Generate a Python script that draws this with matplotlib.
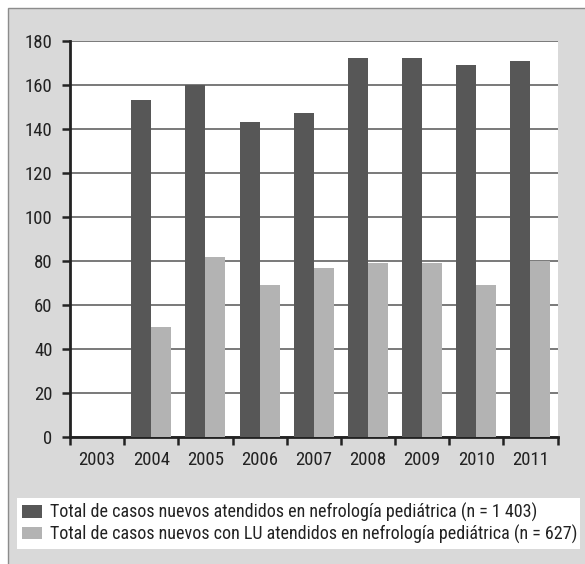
import matplotlib
matplotlib.use("Agg")
import matplotlib.pyplot as plt
from matplotlib.patches import Rectangle, Patch
import numpy as np

plt.rcParams['font.family'] = ['Roboto Condensed', 'Liberation Sans', 'DejaVu Sans']

years = ["2003", "2004", "2005", "2006", "2007", "2008", "2009", "2010", "2011"]
total_nefro = [0, 153, 160, 143, 147, 172, 172, 169, 171]
total_lu = [0, 50, 82, 69, 77, 79, 79, 69, 80]
label_total = "Total de casos nuevos atendidos en nefrología pediátrica (n = 1 403)"
label_lu = "Total de casos nuevos con LU atendidos en nefrología pediátrica (n = 627)"

dark = "#575757"
light = "#b3b3b3"
W, H = 585, 564

fig = plt.figure(figsize=(W / 100, H / 100), dpi=100)
fig.patch.set_facecolor("white")

# grey panel behind the chart
panel = Rectangle((8 / W, -0.01), 1.02 - 8 / W, 1 - 8 / H + 0.01,
                  transform=fig.transFigure, facecolor="#d9d9d9",
                  edgecolor="#8c8c8c", linewidth=1.0, zorder=-10)
fig.patches.append(panel)

ax = fig.add_axes([70 / W, 1 - 437.3 / H, (557.5 - 70) / W, (437.3 - 40.7) / H])
ax.set_facecolor("white")

x = np.arange(len(years))
bw = 0.37
ax.bar(x - bw / 2, total_nefro, width=bw, color=dark, zorder=3, label=label_total)
ax.bar(x + bw / 2, total_lu, width=bw, color=light, zorder=3, label=label_lu)

ax.set_ylim(0, 180)
ax.set_xlim(-0.5, len(years) - 0.5)
ax.set_yticks(np.arange(0, 181, 20))
ax.yaxis.grid(True, color="#555555", linewidth=1.1, zorder=1)
ax.set_axisbelow(True)

# ticks at category boundaries, labels at centres
ax.set_xticks(np.arange(-0.5, len(years), 1.0))
ax.set_xticklabels([])
ax.set_xticks(x, minor=True)
ax.set_xticklabels(years, minor=True)
ax.tick_params(axis="x", which="major", length=5.5, width=1.8, color="#222222", direction="out")
ax.tick_params(axis="x", which="minor", length=0, pad=10, labelsize=13.5, labelcolor="#222222")
ax.tick_params(axis="y", length=5.5, width=1.8, color="#222222", pad=7, labelsize=13.5, labelcolor="#222222")

for s in ("top", "right"):
    ax.spines[s].set_visible(False)
for s in ("left", "bottom"):
    ax.spines[s].set_linewidth(2.0)
    ax.spines[s].set_color("#222222")

handles = [Patch(facecolor=dark, edgecolor="none", label=label_total),
           Patch(facecolor=light, edgecolor="none", label=label_lu)]
leg = fig.legend(handles=handles, loc="lower left",
                 bbox_to_anchor=(17 / W, 1 - 549 / H, (580 - 17) / W, 47 / H),
                 mode="expand", ncol=1, fontsize=13, frameon=True,
                 fancybox=False, facecolor="white", edgecolor="none", framealpha=1,
                 borderaxespad=0, borderpad=0.3, handlelength=1.1, handleheight=0.7,
                 handletextpad=0.4, labelspacing=0.12)
for t in leg.get_texts():
    t.set_color("#222222")

fig.savefig("out.png", dpi=100)
